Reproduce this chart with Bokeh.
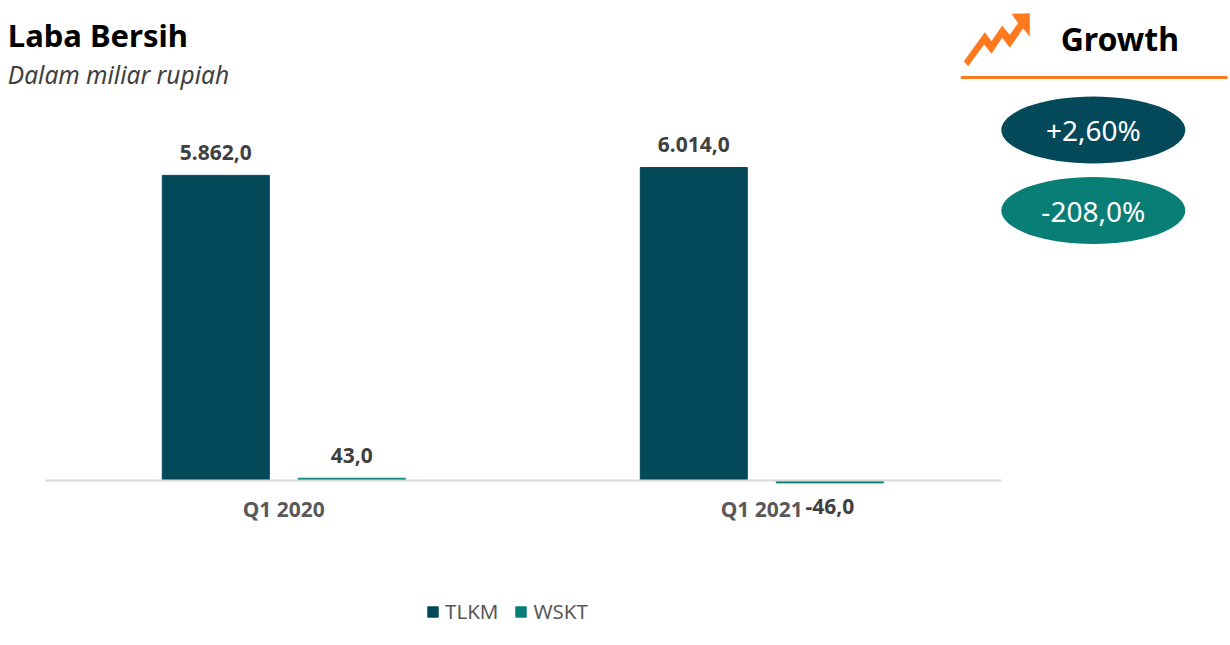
from bokeh.plotting import figure
from bokeh.embed import file_html
from bokeh.resources import INLINE
from bokeh.core.properties import value
from bokeh.models import (Range1d, FixedTicker, Label, Legend, LegendItem, PolyAnnotation,
                          ColumnDataSource)

categories = ["Q1 2020", "Q1 2021"]
tlkm = [5862.0, 6014.0]
wskt = [43.0, -46.0]
growth_labels = ["+2,60%", "-208,0%"]
series_names = ["TLKM", "WSKT"]

TEAL_D = "#03495a"
TEAL_L = "#087e77"
ORANGE = "#ff7a1f"
FONT = "Noto Sans"
W, H = 1228, 640

# scale: one category = 478 px, one unit of value = 0.05205 px
PX_CAT = 478.0
PX_VAL = 0.05205
X0 = 284.0
Y0 = 480.0
SHIFT = 0.7
x_range = Range1d(-(X0 - SHIFT) / PX_CAT, (W - X0 + SHIFT) / PX_CAT)
y_range = Range1d(-(H - Y0) / PX_VAL, Y0 / PX_VAL)


def sx(px):
    return (px - X0) / PX_CAT


def sy(py):
    return (Y0 - py) / PX_VAL


p = figure(width=W, height=H, x_range=x_range, y_range=y_range, output_backend="svg",
           toolbar_location=None, min_border=0, outline_line_color=None,
           background_fill_color="white", border_fill_color="white")
p.grid.visible = False
p.yaxis.visible = False

xs = list(range(len(categories)))
OFF = 68 / PX_CAT
BW = 107 / PX_CAT

src1 = ColumnDataSource(dict(x=[i - OFF for i in xs], top=tlkm))
src2 = ColumnDataSource(dict(x=[i + OFF for i in xs], top=wskt))
r1 = p.vbar(x="x", top="top", bottom=0, width=BW, color=TEAL_D, source=src1)
r2 = p.vbar(x="x", top="top", bottom=0, width=BW, color=TEAL_L, source=src2)

ax = p.xaxis[0]
ax.fixed_location = 0
ax.bounds = (sx(45.7), sx(1001.7))
ax.ticker = FixedTicker(ticks=xs)
ax.major_label_overrides = {i: c for i, c in zip(xs, categories)}
ax.major_tick_line_color = None
ax.minor_tick_line_color = None
ax.axis_line_color = "#d9d9d9"
ax.axis_line_width = 2
ax.major_label_standoff = 8
ax.major_label_text_font = FONT
ax.major_label_text_font_style = "bold"
ax.major_label_text_font_size = "21px"
ax.major_label_text_color = "#595959"


def fmt(v):
    s = f"{abs(v):,.1f}".replace(",", "#").replace(".", ",").replace("#", ".")
    return ("-" if v < 0 else "") + s


for xv, yv in zip([i - OFF for i in xs] + [i + OFF for i in xs], tlkm + wskt):
    off = -23 if yv >= 0 else 24
    p.text(x=[xv], y=[yv], text=[fmt(yv)], text_font=value(FONT), text_font_style="bold",
           text_font_size="21px", text_color="#404040", text_align="center",
           text_baseline="middle", y_offset=off)


def txt(px, py, s, size, color, style="normal", align="left"):
    p.add_layout(Label(x=sx(px), y=sy(py), text=s, text_font=FONT, text_font_size=size,
                       text_color=color, text_font_style=style, text_align=align,
                       text_baseline="middle"))


txt(8, 34.5, "Laba Bersih", "31px", "#000000", "bold")
txt(8, 74, "Dalam miliar rupiah", "24.5px", "#404040", "italic")
txt(1120, 38, "Growth", "32px", "#000000", "bold", "center")

# growth icon
icon = [(42, 182), (105, 95), (125, 122), (157, 76), (180, 103), (205, 68), (185, 40), (240, 38),
        (240, 108), (220, 84), (180, 142), (157, 112), (125, 160), (103, 132), (55, 197)]
p.add_layout(PolyAnnotation(xs=[sx(950 + a / 3) for a, _ in icon],
                            ys=[sy(b / 3) for _, b in icon],
                            fill_color=ORANGE, fill_alpha=1, line_color=None))
p.line(x=[sx(961), sx(1227.7)], y=[sy(77), sy(77)], line_color=ORANGE, line_width=3)

# growth pills
for py, col, s in zip([129.5, 210], [TEAL_D, TEAL_L], growth_labels):
    p.ellipse(x=[sx(1093.5)], y=[sy(py)], width=184, height=67, width_units="screen",
              height_units="screen", fill_color=col, line_color=None)
    txt(1093.5, py, s, "28px", "#ffffff", "normal", "center")

legend = Legend(items=[LegendItem(label=series_names[0], renderers=[r1]),
                       LegendItem(label=series_names[1], renderers=[r2])],
                orientation="horizontal", location=(426, 15), border_line_color=None,
                background_fill_alpha=0, glyph_width=13, glyph_height=13, label_text_font=FONT,
                label_text_font_size="20.5px", label_text_color="#595959", spacing=16,
                label_standoff=6, padding=4, margin=0)
p.add_layout(legend, "center")

open("out.html", "w").write(file_html(p, INLINE))
